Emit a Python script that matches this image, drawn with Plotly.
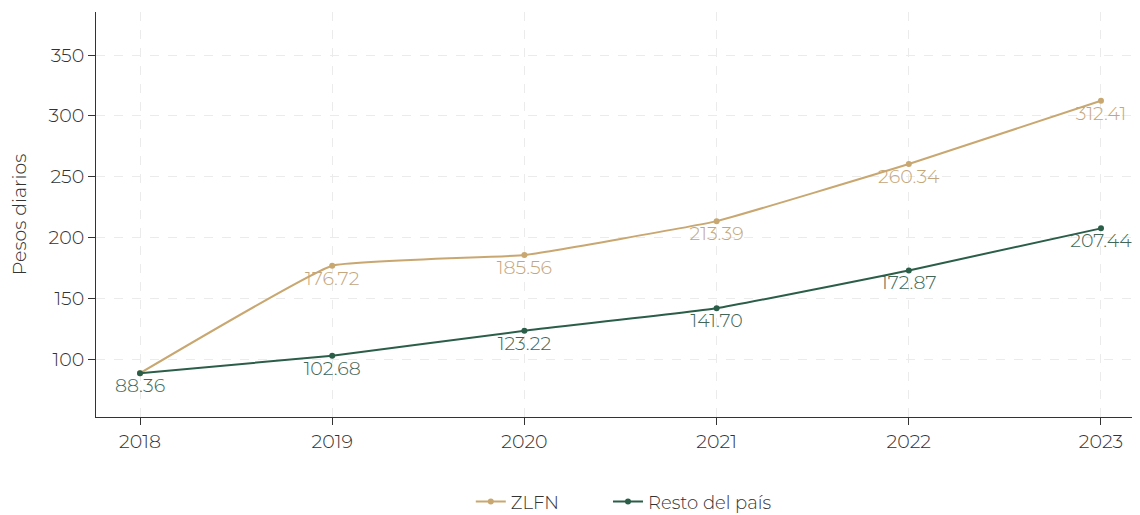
import plotly.graph_objects as go

years = [2018, 2019, 2020, 2021, 2022, 2023]
zlfn = [88.36, 176.72, 185.56, 213.39, 260.34, 312.41]
resto = [88.36, 102.68, 123.22, 141.70, 172.87, 207.44]
zlfn_labels = ["", "176.72", "185.56", "213.39", "260.34", "312.41"]
resto_labels = ["88.36", "102.68", "123.22", "141.70", "172.87", "207.44"]

TAN = "#c9a771"
GREEN = "#2b5e48"
FONT = "Montserrat, Lato, 'Noto Sans', sans-serif"

fig = go.Figure()
fig.add_trace(go.Scatter(
    x=years, y=zlfn, name="ZLFN", mode="lines+markers+text",
    line=dict(color=TAN, width=2, shape="spline", smoothing=0.3),
    marker=dict(color=TAN, size=6),
    text=zlfn_labels, textposition="bottom center",
    textfont=dict(color="#c4a67c", size=19, family=FONT, weight=300),
    legend="legend",
))
fig.add_trace(go.Scatter(
    x=years, y=resto, name="Resto del país", mode="lines+markers+text",
    line=dict(color=GREEN, width=2, shape="spline", smoothing=0.3),
    marker=dict(color=GREEN, size=6),
    text=resto_labels, textposition="bottom center",
    textfont=dict(color="#416656", size=19, family=FONT, weight=300),
    legend="legend2",
))

legend_common = dict(orientation="h", xanchor="left",
                     yref="container", y=0.026, yanchor="middle",
                     font=dict(size=18, color="#333333", weight=300),
                     bgcolor="rgba(0,0,0,0)")

fig.update_layout(
    width=1132, height=507,
    margin=dict(l=88, r=0, t=4, b=98, autoexpand=False),
    plot_bgcolor="white", paper_bgcolor="white",
    font=dict(family=FONT, color="#333333", size=18, weight=300),
    showlegend=True,
    legend=dict(x=0.359, **legend_common),
    legend2=dict(x=0.4904, **legend_common),
    xaxis=dict(
        range=[2017.771, 2023.203], tickmode="array", tickvals=years,
        ticktext=[str(y) for y in years],
        showgrid=True, gridcolor="#ebebeb", griddash="dash", gridwidth=1,
        showline=True, linecolor="#333333", linewidth=1,
        ticks="outside", ticklen=7, tickcolor="#333333",
        zeroline=False, tickfont=dict(size=19, color="#333333", weight=300),
    ),
    yaxis=dict(
        range=[52.3, 385.4], tickvals=[100, 150, 200, 250, 300, 350],
        showgrid=True, gridcolor="#ebebeb", griddash="dash", gridwidth=1,
        showline=True, linecolor="#333333", linewidth=1,
        ticks="outside", ticklen=7, tickcolor="#333333",
        zeroline=False, tickfont=dict(size=19, color="#333333", weight=300),
        title=dict(text="Pesos diarios", font=dict(size=19, color="#333333", weight=300), standoff=18),
    ),
)

fig.write_html("out.html")
